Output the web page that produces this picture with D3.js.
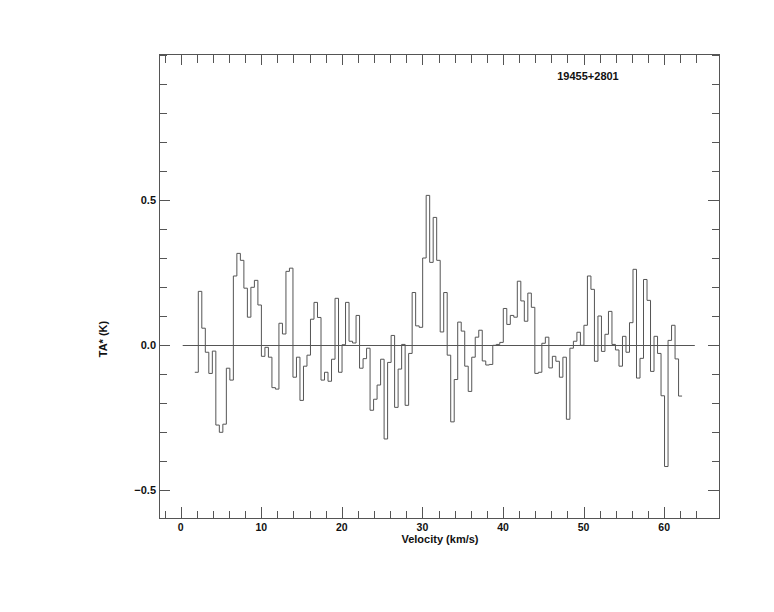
<!DOCTYPE html>
<html>
<head>
<meta charset="utf-8">
<script src="https://cdn.jsdelivr.net/npm/d3@7"></script>
<style>
  html, body { margin: 0; padding: 0; background: #fff; }
  svg text { font-family: "Liberation Sans", Arial, sans-serif; font-weight: bold; fill: #111; }
</style>
</head>
<body>
<div id="chart"></div>
<script>
// ---- data ----
const sourceName = "19455+2801";
const xLabel = "Velocity (km/s)";
const yLabel = "TA* (K)";
const channelStart = 1.97;      // km/s, centre of first channel
const channelWidth = 0.435;     // km/s
const temperatures = [
  -0.093, 0.186, 0.059, -0.024, -0.097, -0.020, -0.275, -0.300, -0.272, -0.079,
  -0.120, 0.239, 0.317, 0.293, 0.197, 0.097, 0.200, 0.224, 0.139, -0.038,
  -0.007, -0.041, -0.146, -0.151, 0.076, 0.039, 0.255, 0.266, -0.110, -0.041,
  -0.190, -0.072, -0.034, 0.090, 0.148, 0.096, -0.120, -0.093, -0.124, -0.048,
  0.162, -0.093, 0.002, 0.148, 0.014, 0.008, 0.103, -0.079, -0.046, -0.010,
  -0.224, -0.186, -0.137, -0.048, -0.323, -0.059, 0.034, -0.214, -0.082, 0.003,
  -0.207, -0.028, 0.182, 0.067, 0.062, 0.301, 0.517, 0.286, 0.441, 0.293,
  0.046, 0.182, -0.034, -0.264, -0.118, 0.080, 0.049, -0.072, -0.159, -0.041,
  0.028, 0.052, -0.054, -0.068, -0.066, 0.000, 0.003, 0.010, 0.127, 0.072,
  0.103, 0.097, 0.221, 0.153, 0.083, 0.180, 0.131, -0.097, -0.093, 0.007,
  0.028, -0.078, -0.038, -0.055, -0.110, -0.041, -0.255, -0.010, 0.014, 0.045,
  0.000, 0.069, 0.239, 0.193, -0.055, 0.101, -0.021, 0.038, 0.117, 0.003,
  -0.016, -0.072, 0.031, -0.024, 0.078, 0.262, -0.113, -0.045, 0.227, 0.155,
  -0.090, 0.031, -0.028, -0.174, -0.418, 0.017, 0.069, -0.047, -0.175
];
const velocities = temperatures.map((_, i) => channelStart + i * channelWidth);
const baselineRange = [0.25, 63.8];
const xDomain = [-2.69, 66.8];
const yDomain = [-0.5955, 1.0045];
const xMajorTicks = [0, 10, 20, 30, 40, 50, 60];
const xMinorTicks = d3.range(-2, 66, 2);
const yMajorTicks = [-0.5, 0, 0.5];
const yMinorTicks = d3.range(-5, 11).map(d => d / 10);

// ---- layout ----
const W = 774, H = 612;
const frame = { left: 159, top: 54, right: 719, bottom: 518 };
const ink = "#555";

const svg = d3.select("#chart").append("svg")
  .attr("width", W).attr("height", H);

const x = d3.scaleLinear().domain(xDomain).range([frame.left, frame.right]);
const y = d3.scaleLinear().domain(yDomain).range([frame.bottom, frame.top]);

// frame
svg.append("rect")
  .attr("x", frame.left).attr("y", frame.top)
  .attr("width", frame.right - frame.left).attr("height", frame.bottom - frame.top)
  .attr("fill", "none").attr("stroke", ink).attr("stroke-width", 1)
  .attr("shape-rendering", "crispEdges");

const isMajorX = v => xMajorTicks.some(m => Math.abs(m - v) < 1e-6);
const isMajorY = v => yMajorTicks.some(m => Math.abs(m - v) < 1e-6);

// bottom and top ticks (inward)
const gt = svg.append("g").attr("stroke", ink).attr("shape-rendering", "crispEdges");
xMinorTicks.forEach(v => {
  const len = isMajorX(v) ? 11 : 7.5;
  const px = Math.round(x(v)) + 0.5;
  gt.append("line").attr("x1", px).attr("x2", px)
    .attr("y1", frame.bottom).attr("y2", frame.bottom - len);
  gt.append("line").attr("x1", px).attr("x2", px)
    .attr("y1", frame.top).attr("y2", frame.top + (isMajorX(v) ? 11 : 9));
});
yMinorTicks.forEach(v => {
  const len = isMajorY(v) ? 11 : 7.5;
  const py = Math.round(y(v)) + 0.5;
  gt.append("line").attr("x1", frame.left).attr("x2", frame.left + len)
    .attr("y1", py).attr("y2", py);
  gt.append("line").attr("x1", frame.right).attr("x2", frame.right - len)
    .attr("y1", py).attr("y2", py);
});

// tick labels
svg.append("g").selectAll("text").data(xMajorTicks).join("text")
  .attr("x", d => x(d)).attr("y", frame.bottom + 12.5)
  .attr("text-anchor", "middle").attr("font-size", 10.5)
  .text(d => d3.format("d")(d));
svg.append("g").selectAll("text").data(yMajorTicks).join("text")
  .attr("x", frame.left - 3).attr("y", d => y(d) + 4)
  .attr("text-anchor", "end").attr("font-size", 11)
  .text(d => d3.format(".1f")(d));

// axis titles
svg.append("text").attr("x", 440).attr("y", 542.5)
  .attr("text-anchor", "middle").attr("font-size", 11).text(xLabel);
svg.append("text")
  .attr("transform", `translate(107,${(frame.top + frame.bottom) / 2 + 53}) rotate(-90)`)
  .attr("text-anchor", "middle").attr("font-size", 11).text(yLabel);
svg.append("text").attr("x", 588).attr("y", 80)
  .attr("text-anchor", "middle").attr("font-size", 11).text(sourceName);

// baseline
svg.append("line")
  .attr("x1", x(baselineRange[0])).attr("x2", x(baselineRange[1]))
  .attr("y1", Math.round(y(0)) + 0.5).attr("y2", Math.round(y(0)) + 0.5)
  .attr("stroke", ink).attr("stroke-width", 1);

// histogram-style spectrum
const pts = [];
velocities.forEach((v, i) => {
  pts.push([v - channelWidth / 2, temperatures[i]]);
  pts.push([v + channelWidth / 2, temperatures[i]]);
});
const line = d3.line().x(d => x(d[0])).y(d => y(d[1]));
svg.append("path").datum(pts)
  .attr("d", line)
  .attr("fill", "none").attr("stroke", ink).attr("stroke-width", 1);
</script>
</body>
</html>
